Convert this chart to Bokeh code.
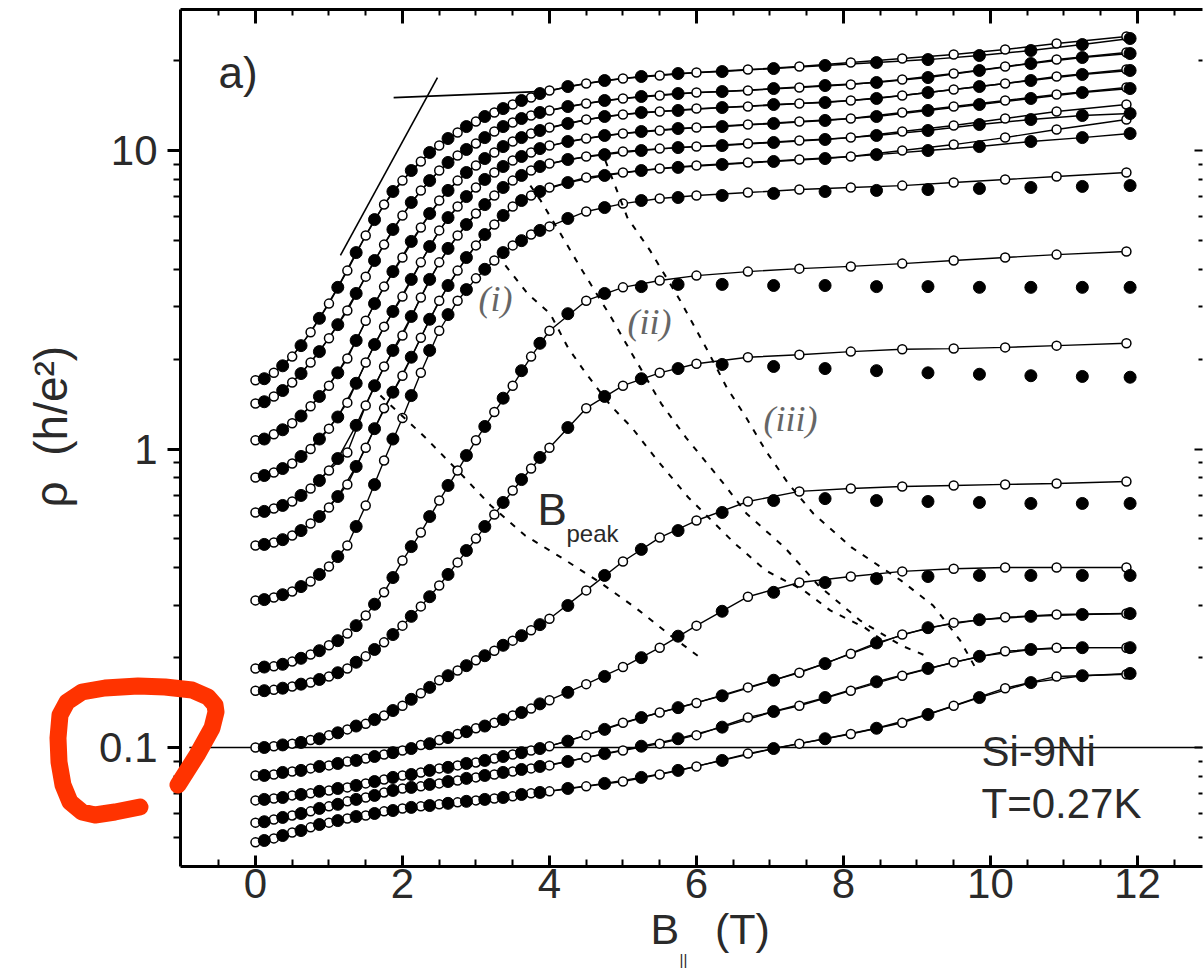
import math
from bokeh.plotting import figure
from bokeh.models import (Range1d, LinearAxis, LogAxis, FixedTicker, Label, Title, Div,
                          CustomJSTickFormatter)
from bokeh.layouts import column
from bokeh.embed import file_html
from bokeh.resources import INLINE

# ---------------- data (B in tesla, rho in h/e^2) ----------------
B_OPEN = [0, 0.25, 0.5, 0.75, 1.0, 1.25, 1.5, 1.75, 2.0, 2.25, 2.5, 2.75, 3.0, 3.25, 3.5,
          3.75, 4.0, 4.5, 5.0, 5.5, 6.0, 6.7, 7.4, 8.1, 8.8, 9.5, 10.2, 10.9, 11.85]
B_FILLED = [0.12, 0.37, 0.62, 0.87, 1.12, 1.37, 1.62, 1.87, 2.12, 2.37, 2.62, 2.87, 3.12, 3.37,
            3.62, 3.87, 4.25, 4.75, 5.25, 5.75, 6.35, 7.05, 7.75, 8.45, 9.15, 9.85, 10.55, 11.25, 11.9]

T1_OPEN = [1.70, 1.80, 2.04, 2.46, 3.07, 3.96, 5.19, 6.59, 7.93, 9.19, 10.39, 11.49, 12.51, 13.41, 14.26, 15.05, 15.89, 16.77, 17.43, 17.84, 18.25, 18.68, 19.11, 19.71, 20.33, 20.97, 21.80, 22.83, 24.09]
T1_FILLED = [1.72, 1.90, 2.22, 2.74, 3.48, 4.55, 5.87, 7.29, 8.57, 9.85, 10.97, 12.03, 13.00, 13.82, 14.71, 15.52, 16.38, 17.16, 17.70, 18.11, 18.39, 18.82, 19.27, 19.71, 20.17, 20.81, 21.63, 22.65, 23.73]
T2_OPEN = [1.42, 1.50, 1.67, 1.95, 2.35, 2.91, 3.78, 4.84, 6.06, 7.35, 8.57, 9.62, 10.56, 11.58, 12.41, 13.10, 13.62, 14.37, 14.94, 15.29, 15.64, 15.89, 16.26, 16.64, 17.30, 18.11, 19.11, 20.18, 21.30]
T2_FILLED = [1.44, 1.57, 1.79, 2.12, 2.61, 3.32, 4.28, 5.44, 6.70, 7.93, 9.12, 10.08, 11.05, 12.03, 12.80, 13.41, 14.04, 14.71, 15.17, 15.52, 15.76, 16.13, 16.51, 16.90, 17.56, 18.54, 19.56, 20.49, 21.13]
T3_OPEN = [1.07, 1.12, 1.22, 1.39, 1.63, 2.01, 2.69, 3.50, 4.38, 5.52, 6.80, 7.93, 8.91, 9.85, 10.72, 11.40, 11.94, 12.70, 13.20, 13.51, 13.82, 14.04, 14.37, 14.71, 15.29, 16.01, 16.77, 17.70, 18.68]
T3_FILLED = [1.08, 1.16, 1.29, 1.50, 1.80, 2.31, 3.07, 3.93, 4.96, 6.15, 7.35, 8.44, 9.40, 10.31, 11.05, 11.67, 12.32, 13.00, 13.41, 13.62, 13.93, 14.26, 14.48, 14.94, 15.64, 16.38, 17.16, 17.98, 18.54]
T4_OPEN = [0.803, 0.834, 0.894, 1.00, 1.17, 1.43, 1.95, 2.57, 3.24, 4.22, 5.40, 6.49, 7.52, 8.44, 9.26, 9.85, 10.39, 10.97, 11.40, 11.67, 11.94, 12.22, 12.51, 12.80, 13.41, 14.04, 14.71, 15.40, 16.26]
T4_FILLED = [0.815, 0.860, 0.944, 1.08, 1.28, 1.66, 2.24, 2.89, 3.70, 4.77, 5.96, 7.01, 8.00, 8.84, 9.55, 10.15, 10.72, 11.23, 11.58, 11.85, 12.03, 12.32, 12.61, 13.00, 13.62, 14.26, 14.94, 15.64, 16.13]
T5_OPEN = [0.613, 0.632, 0.667, 0.737, 0.847, 0.973, 1.40, 1.89, 2.40, 3.22, 4.22, 5.19, 6.15, 7.07, 7.93, 8.57, 9.05, 9.55, 9.92, 10.15, 10.31, 10.56, 10.80, 11.05, 11.58, 12.13, 12.80, 13.51, 14.26]
T5_FILLED = [0.618, 0.647, 0.699, 0.784, 0.929, 1.20, 1.63, 2.14, 2.78, 3.70, 4.70, 5.65, 6.59, 7.52, 8.25, 8.84, 9.33, 9.69, 10.00, 10.23, 10.39, 10.64, 10.89, 11.23, 11.67, 12.22, 12.70, 13.10, 13.30]
T6_OPEN = [0.475, 0.486, 0.513, 0.563, 0.637, 0.760, 1.01, 1.37, 1.76, 2.36, 3.14, 3.96, 4.81, 5.65, 6.49, 7.07, 7.52, 8.12, 8.44, 8.71, 8.91, 9.12, 9.33, 9.55, 10.00, 10.47, 11.05, 11.76, 12.70]
T6_FILLED = [0.479, 0.497, 0.533, 0.594, 0.693, 0.874, 1.17, 1.55, 2.03, 2.72, 3.53, 4.38, 5.23, 6.06, 6.80, 7.29, 7.81, 8.25, 8.57, 8.78, 8.98, 9.19, 9.40, 9.69, 10.00, 10.31, 10.72, 11.05, 11.40]
P_OPEN = [0.311, 0.318, 0.333, 0.360, 0.404, 0.475, 0.647, 0.915, 1.27, 1.80, 2.49, 3.14, 3.73, 4.28, 4.81, 5.23, 5.57, 6.25, 6.64, 6.91, 7.07, 7.23, 7.40, 7.52, 7.63, 7.81, 8.00, 8.18, 8.44]
P_FILLED = [0.313, 0.325, 0.346, 0.380, 0.436, 0.550, 0.760, 1.08, 1.51, 2.14, 2.82, 3.42, 4.00, 4.55, 4.99, 5.40, 5.92, 6.44, 6.80, 6.96, 7.07, 7.18, 7.29, 7.35, 7.40, 7.46, 7.52, 7.58, 7.63]
Q_OPEN = [0.184, 0.187, 0.194, 0.205, 0.220, 0.241, 0.277, 0.331, 0.423, 0.525, 0.672, 0.847, 1.07, 1.33, 1.63, 2.04, 2.49, 3.14, 3.48, 3.67, 3.81, 3.93, 4.02, 4.09, 4.18, 4.28, 4.38, 4.48, 4.59]
Q_FILLED = [0.186, 0.190, 0.199, 0.211, 0.228, 0.256, 0.302, 0.371, 0.471, 0.594, 0.755, 0.951, 1.19, 1.48, 1.83, 2.26, 2.84, 3.32, 3.50, 3.56, 3.56, 3.53, 3.53, 3.50, 3.50, 3.48, 3.48, 3.48, 3.48]
R_OPEN = [0.155, 0.156, 0.160, 0.165, 0.173, 0.184, 0.202, 0.225, 0.256, 0.297, 0.349, 0.417, 0.501, 0.603, 0.726, 0.860, 1.01, 1.37, 1.63, 1.80, 1.93, 2.03, 2.07, 2.12, 2.16, 2.17, 2.19, 2.22, 2.26]
R_FILLED = [0.155, 0.158, 0.163, 0.169, 0.178, 0.193, 0.213, 0.239, 0.275, 0.320, 0.380, 0.457, 0.550, 0.662, 0.790, 0.937, 1.18, 1.50, 1.72, 1.86, 1.92, 1.89, 1.86, 1.83, 1.80, 1.78, 1.76, 1.75, 1.74]
S_OPEN = [0.100, 0.101, 0.103, 0.106, 0.110, 0.115, 0.120, 0.128, 0.138, 0.152, 0.168, 0.181, 0.196, 0.211, 0.228, 0.247, 0.270, 0.336, 0.420, 0.505, 0.576, 0.667, 0.721, 0.737, 0.749, 0.755, 0.761, 0.766, 0.778]
S_FILLED = [0.100, 0.102, 0.104, 0.107, 0.112, 0.118, 0.124, 0.133, 0.145, 0.159, 0.174, 0.188, 0.203, 0.220, 0.237, 0.258, 0.299, 0.377, 0.461, 0.533, 0.613, 0.672, 0.682, 0.672, 0.667, 0.662, 0.657, 0.657, 0.657]
U_OPEN = [0.0806, 0.0812, 0.0831, 0.0851, 0.0871, 0.0898, 0.0919, 0.0947, 0.0977, 0.102, 0.106, 0.111, 0.116, 0.121, 0.128, 0.135, 0.144, 0.163, 0.186, 0.216, 0.256, 0.320, 0.357, 0.374, 0.389, 0.397, 0.401, 0.401, 0.401]
U_FILLED = [0.0806, 0.0825, 0.0838, 0.0864, 0.0884, 0.0905, 0.0933, 0.0961, 0.0992, 0.103, 0.108, 0.113, 0.118, 0.124, 0.131, 0.140, 0.153, 0.173, 0.200, 0.236, 0.286, 0.331, 0.357, 0.368, 0.374, 0.377, 0.377, 0.377, 0.377]
V_OPEN = [0.0665, 0.0675, 0.0691, 0.0702, 0.0718, 0.0735, 0.0758, 0.0781, 0.0806, 0.0825, 0.0851, 0.0871, 0.0891, 0.0919, 0.0947, 0.0977, 0.101, 0.110, 0.121, 0.131, 0.141, 0.159, 0.178, 0.206, 0.239, 0.262, 0.273, 0.279, 0.281]
V_FILLED = [0.0670, 0.0680, 0.0696, 0.0713, 0.0729, 0.0746, 0.0769, 0.0794, 0.0812, 0.0838, 0.0858, 0.0884, 0.0905, 0.0933, 0.0961, 0.0992, 0.105, 0.115, 0.126, 0.136, 0.149, 0.168, 0.191, 0.224, 0.252, 0.268, 0.275, 0.279, 0.281]
W_OPEN = [0.0560, 0.0574, 0.0592, 0.0611, 0.0635, 0.0660, 0.0680, 0.0707, 0.0729, 0.0741, 0.0758, 0.0775, 0.0794, 0.0812, 0.0831, 0.0851, 0.0871, 0.0926, 0.0977, 0.103, 0.110, 0.126, 0.138, 0.155, 0.174, 0.193, 0.210, 0.216, 0.216]
W_FILLED = [0.0564, 0.0583, 0.0601, 0.0625, 0.0645, 0.0670, 0.0691, 0.0718, 0.0735, 0.0752, 0.0769, 0.0788, 0.0806, 0.0825, 0.0844, 0.0864, 0.0898, 0.0954, 0.101, 0.107, 0.117, 0.132, 0.147, 0.166, 0.184, 0.202, 0.213, 0.216, 0.216]
X_OPEN = [0.0481, 0.0496, 0.0519, 0.0540, 0.0560, 0.0578, 0.0592, 0.0611, 0.0625, 0.0635, 0.0645, 0.0655, 0.0665, 0.0675, 0.0686, 0.0702, 0.0713, 0.0741, 0.0769, 0.0812, 0.0864, 0.0954, 0.103, 0.111, 0.121, 0.138, 0.158, 0.173, 0.176]
X_FILLED = [0.0488, 0.0507, 0.0527, 0.0552, 0.0569, 0.0587, 0.0601, 0.0615, 0.0630, 0.0639, 0.0650, 0.0660, 0.0670, 0.0680, 0.0696, 0.0707, 0.0729, 0.0758, 0.0794, 0.0838, 0.0905, 0.0992, 0.107, 0.116, 0.129, 0.147, 0.165, 0.174, 0.177]

# B_peak loci (dashed) : (B, rho)
PEAK_BP_B = [1.70, 2.31, 2.79, 3.20, 3.67, 4.18, 4.69, 5.17, 5.65, 6.05]
PEAK_BP_R = [1.51, 1.093, 0.828, 0.647, 0.513, 0.430, 0.357, 0.294, 0.237, 0.200]
PEAK_I_B = [3.40, 3.70, 4.01, 4.25, 4.49, 4.83, 5.12, 5.47, 5.89, 6.52, 6.94, 7.46, 7.82, 8.29, 8.57]
PEAK_I_R = [4.12, 3.32, 2.84, 2.19, 1.80, 1.40, 1.18, 0.915, 0.688, 0.483, 0.392, 0.336, 0.288, 0.252, 0.225]
PEAK_II_B = [3.74, 3.88, 4.15, 4.42, 4.84, 5.12, 5.52, 5.86, 6.37, 6.68, 7.20, 7.66, 8.23, 8.78, 9.12]
PEAK_II_R = [7.63, 6.80, 5.27, 4.06, 2.76, 2.09, 1.42, 1.09, 0.766, 0.608, 0.468, 0.349, 0.266, 0.220, 0.203]
PEAK_III_B = [4.76, 5.06, 5.37, 5.78, 6.15, 6.41, 6.68, 6.94, 7.25, 7.59, 8.11, 8.78, 9.22, 9.59, 9.80]
PEAK_III_R = [9.26, 5.96, 4.62, 3.14, 2.14, 1.61, 1.27, 0.989, 0.766, 0.608, 0.468, 0.363, 0.299, 0.228, 0.184]

# guide lines
TANGENT_B = [1.156, 2.476]
TANGENT_R = [4.45, 17.56]
SAT_B = [1.88, 3.9]
SAT_R = [15.05, 15.77]
REF_B = [-0.9, 12.9]
REF_R = [0.1, 0.1]

X_MAJOR = [0, 2, 4, 6, 8, 10, 12]
X_MINOR = [-0.5, 0.5, 1, 1.5, 2.5, 3, 3.5, 4.5, 5, 5.5, 6.5, 7, 7.5, 8.5, 9, 9.5, 10.5, 11, 11.5, 12.5]
Y_MAJOR = [0.1, 1, 10]
Y_MINOR = [0.05, 0.06, 0.07, 0.08, 0.09, 0.2, 0.3, 0.4, 0.5, 0.6, 0.7, 0.8, 0.9,
           2, 3, 4, 5, 6, 7, 8, 9, 20]

# hand-drawn red mark over the page (page pixels)
MARK_PATH = [(173, 780), (192, 750), (207, 723), (211, 707), (210, 700), (203, 692), (187, 685),
             (160, 682), (133, 681), (100, 683), (77, 687), (62, 697), (55, 710), (53, 733),
             (54, 757), (58, 780), (65, 797), (77, 807), (90, 810), (110, 807), (135, 802)]

CURVES = [
    (T1_OPEN, T1_FILLED, True), (T2_OPEN, T2_FILLED, True), (T3_OPEN, T3_FILLED, True),
    (T4_OPEN, T4_FILLED, True), (T5_OPEN, T5_FILLED, True), (T6_OPEN, T6_FILLED, True),
    (P_OPEN, P_FILLED, False), (Q_OPEN, Q_FILLED, False), (R_OPEN, R_FILLED, False),
    (S_OPEN, S_FILLED, False), (U_OPEN, U_FILLED, False), (V_OPEN, V_FILLED, True),
    (W_OPEN, W_FILLED, True), (X_OPEN, X_FILLED, True),
]

FONT = "Liberation Sans"
TXT = "#2a2a2a"
NB = "\u00a0"

p = figure(width=1204, height=970, x_range=Range1d(-1.02, 12.885),
           y_range=Range1d(0.03993, 29.68), y_axis_type="log",
           output_backend="svg", toolbar_location=None,
           min_border_left=180, min_border_right=2, min_border_top=9, min_border_bottom=104)
p.xgrid.visible = False
p.ygrid.visible = False
p.outline_line_color = None
p.background_fill_color = "white"
p.border_fill_color = "white"

xa = p.xaxis[0]
xa.ticker = FixedTicker(ticks=X_MAJOR, minor_ticks=X_MINOR)
xa.major_tick_in = 11
xa.major_tick_out = 0
xa.minor_tick_in = 7
xa.minor_tick_out = 0
xa.axis_line_width = 3
xa.major_tick_line_width = 3
xa.minor_tick_line_width = 2
xa.major_label_text_font = FONT
xa.major_label_text_font_size = "42px"
xa.major_label_text_color = TXT
xa.major_label_standoff = 2

ya = p.yaxis[0]
ya.ticker = FixedTicker(ticks=Y_MAJOR, minor_ticks=Y_MINOR)
ya.formatter = CustomJSTickFormatter(code="return String(tick);")
ya.major_tick_in = 0
ya.major_tick_out = 13
ya.minor_tick_in = 0
ya.minor_tick_out = 7
ya.axis_line_width = 3
ya.major_tick_line_width = 3
ya.minor_tick_line_width = 2
ya.major_label_text_font = FONT
ya.major_label_text_font_size = "42px"
ya.major_label_text_color = TXT
ya.major_label_text_align = "center"
ya.major_label_standoff = 10

blank = CustomJSTickFormatter(code="return '';")
top = LinearAxis(ticker=FixedTicker(ticks=X_MAJOR, minor_ticks=X_MINOR), formatter=blank,
                 major_label_text_font_size="1px", major_label_standoff=0,
                 major_tick_in=14, major_tick_out=0, minor_tick_in=6, minor_tick_out=0,
                 axis_line_width=3, major_tick_line_width=3, minor_tick_line_width=2)
p.add_layout(top, "above")
right = LogAxis(ticker=FixedTicker(ticks=Y_MAJOR, minor_ticks=Y_MINOR), formatter=blank,
                major_label_text_font_size="1px", major_label_standoff=0,
                major_tick_in=8, major_tick_out=0, minor_tick_in=4, minor_tick_out=0,
                axis_line_color=None, major_tick_line_width=2, minor_tick_line_width=2)
p.add_layout(right, "right")

# axis titles (side-panel titles, so they are not clipped by the frame)
p.add_layout(Title(text="B" + NB * 3 + "(T)", align="left", offset=470, standoff=4,
                   text_font=FONT, text_font_size="43px", text_font_style="normal",
                   text_color=TXT), "below")
p.add_layout(Title(text="||", align="left", offset=499, standoff=-11,
                   text_font=FONT, text_font_size="15px", text_font_style="normal",
                   text_color=TXT), "below")
p.add_layout(Title(text="ρ" + NB * 2 + "(h/e²)", align="left", offset=359, standoff=38,
                   vertical_align="middle",
                   text_font=FONT, text_font_size="46px", text_font_style="normal",
                   text_color=TXT), "left")

# reference and guide lines
p.line(REF_B, REF_R, line_color="black", line_width=1.5)
p.line(TANGENT_B, TANGENT_R, line_color="black", line_width=1.6)
p.line(SAT_B, SAT_R, line_color="black", line_width=1.8)

# data
for yo, yf, joined in CURVES:
    p.line(B_OPEN, yo, line_color="black", line_width=1.4)
    if joined:
        p.line(B_FILLED, yf, line_color="black", line_width=1.4)
for yo, yf, joined in CURVES:
    p.scatter(B_OPEN, yo, marker="circle", size=9, fill_color="white",
              line_color="black", line_width=1.5)
for yo, yf, joined in CURVES:
    p.scatter(B_FILLED, yf, marker="circle", size=12, fill_color="black", line_color="black")

# B_peak dashed loci
for bx, by in [(PEAK_BP_B, PEAK_BP_R), (PEAK_I_B, PEAK_I_R),
               (PEAK_II_B, PEAK_II_R), (PEAK_III_B, PEAK_III_R)]:
    p.line(bx, by, line_color="black", line_width=2, line_dash="6 8")


def lab(x, y, t, size, font=FONT, style="normal", color=TXT, **kw):
    p.add_layout(Label(x=x, y=y, text=t, text_font=font, text_font_size=size,
                       text_font_style=style, text_color=color, **kw))


lab(-0.503, 15.06, "a)", "44px")
lab(3.034, 2.735, "(i)", "36px", font="Liberation Serif", style="italic", color="#666")
lab(5.061, 2.29, "(ii)", "36px", font="Liberation Serif", style="italic", color="#666")
lab(6.912, 1.084, "(iii)", "36px", font="Liberation Serif", style="italic", color="#666")
lab(3.837, 0.521, "B", "44px")
lab(4.231, 0.471, "peak", "24px")
lab(9.878, 0.0806, "Si-9Ni", "42px")
lab(9.878, 0.0540, "T=0.27K", "42px")

# red hand-drawn mark: an overlay on top of the page (it lies outside the plot frame)
d = "M " + " L ".join(f"{x},{y}" for x, y in MARK_PATH)
svg = ('<svg xmlns="http://www.w3.org/2000/svg" width="1204" height="970" '
       'style="display:block">'
       f'<path d="{d}" fill="none" stroke="#ff3300" stroke-width="17" '
       'stroke-linecap="round" stroke-linejoin="round"/></svg>')
overlay = Div(text=svg, width=1204, height=970,
              styles={"position": "absolute", "left": "0px", "top": "0px",
                      "pointer-events": "none", "z-index": "10"},
              stylesheets=[":host { position: absolute !important; left: 0px !important; "
                           "top: 0px !important; pointer-events: none; z-index: 10; }"])

layout = column(p, overlay)
open("out.html", "w").write(file_html(layout, INLINE))
